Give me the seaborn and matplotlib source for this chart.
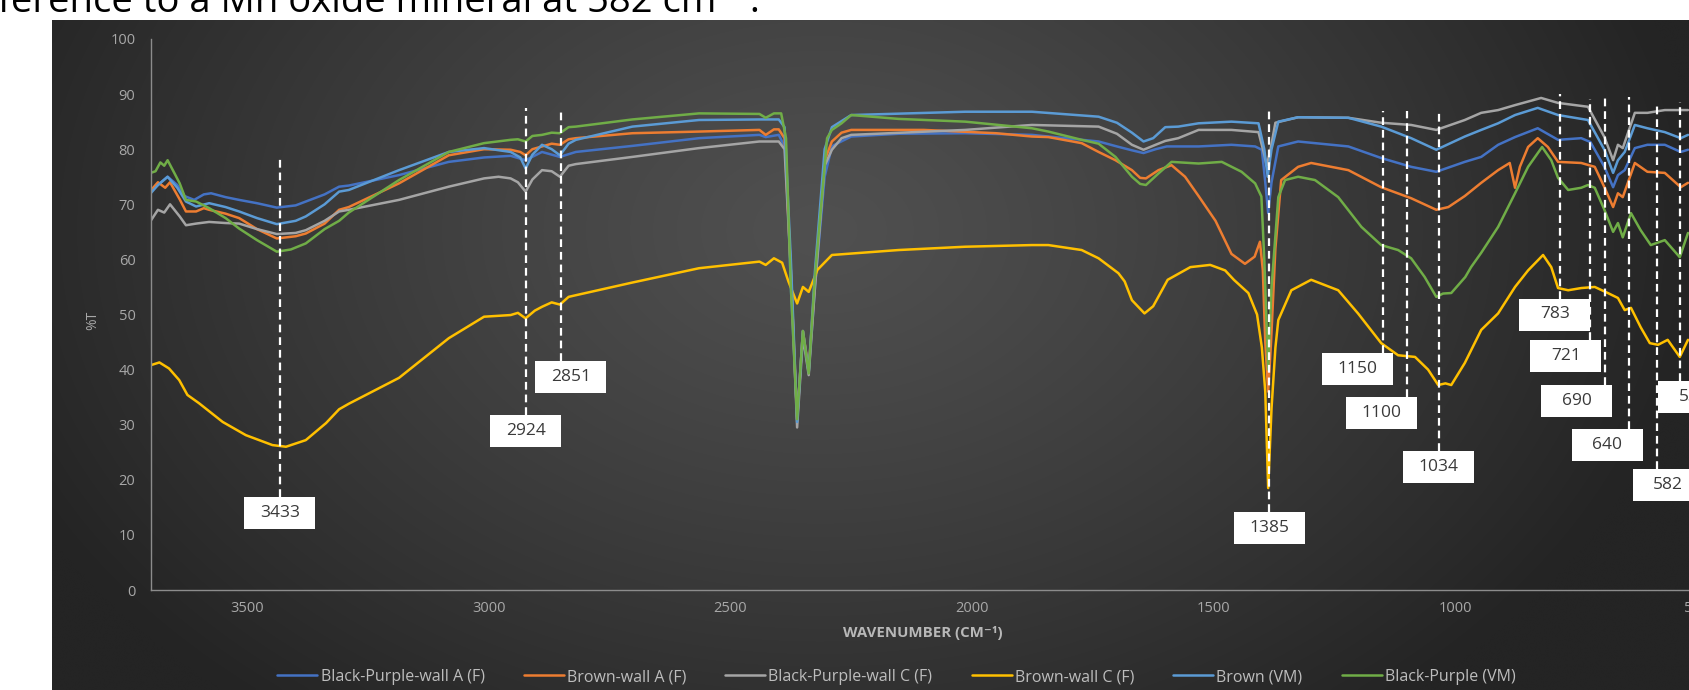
import numpy as np
import pandas as pd
import matplotlib
matplotlib.use("Agg")
import matplotlib.pyplot as plt
from matplotlib.patches import Rectangle
from matplotlib.transforms import IdentityTransform
from matplotlib.lines import Line2D
import seaborn as sns

sns.set_theme(style="dark")
plt.rcParams["font.family"] = ["Open Sans", "DejaVu Sans"]

# ---------------- FTIR spectra (%T against wavenumber, cm-1) ----------------
bpa_wn = [3700, 3685, 3665, 3645, 3630, 3610, 3590, 3575, 3545, 3517, 3480, 3439, 3400, 3379,
          3340, 3310, 3290, 3186, 3083, 3010, 2955, 2924, 2890, 2853, 2820, 2703, 2565, 2440,
          2427, 2400, 2385, 2375, 2362, 2350, 2338, 2325, 2305, 2290, 2280, 2250, 2152, 2014,
          1876, 1738, 1700, 1669, 1645, 1620, 1597, 1531, 1463, 1414, 1400, 1393, 1387, 1380,
          1366, 1325, 1221, 1153, 1091, 1039, 980, 946, 911, 876, 829, 787, 739, 720, 691, 673,
          663, 649, 628, 602, 566, 533, 518]
bpa_t = [72.5, 73.5, 75.0, 73.5, 71.5, 70.8, 71.8, 72.0, 71.3, 70.8, 70.2, 69.4, 69.8, 70.5,
         71.8, 73.2, 73.4, 75.3, 77.7, 78.5, 78.8, 78.0, 79.5, 78.6, 79.5, 80.6, 82.0, 82.6,
         82.2, 82.6, 80.0, 55.0, 31.5, 47.0, 39.5, 55.0, 75.0, 80.5, 81.0, 82.3, 82.8, 82.9,
         82.6, 81.4, 80.5, 79.8, 79.3, 80.0, 80.5, 80.5, 80.8, 80.5, 79.9, 74.0, 68.4, 74.0,
         80.5, 81.4, 80.5, 78.4, 76.8, 75.9, 77.7, 78.6, 80.8, 82.2, 83.8, 81.7, 82.0, 81.3,
         76.8, 73.1, 75.3, 76.2, 80.2, 80.8, 80.8, 79.5, 79.9]

bwa_wn = [3700, 3685, 3670, 3660, 3640, 3627, 3606, 3590, 3579, 3545, 3517, 3480, 3439, 3400,
          3379, 3340, 3310, 3290, 3186, 3083, 3010, 2955, 2935, 2924, 2910, 2890, 2870, 2853,
          2835, 2820, 2703, 2565, 2440, 2427, 2410, 2400, 2388, 2375, 2362, 2350, 2338, 2325,
          2305, 2290, 2270, 2250, 2100, 1950, 1876, 1842, 1773, 1738, 1703, 1669, 1652, 1640,
          1614, 1587, 1559, 1531, 1496, 1463, 1435, 1415, 1404, 1398, 1393, 1387, 1381, 1372,
          1360, 1325, 1298, 1221, 1153, 1091, 1039, 1014, 980, 946, 911, 887, 876, 866, 849,
          829, 808, 787, 739, 711, 691, 673, 663, 653, 628, 602, 566, 533, 518]
bwa_t = [72.5, 74.0, 73.0, 74.0, 70.9, 68.7, 68.7, 69.3, 69.0, 68.3, 67.5, 65.5, 63.8, 64.2,
         64.7, 66.5, 69.0, 69.5, 73.8, 78.9, 80.0, 79.9, 79.5, 78.9, 80.0, 80.5, 81.0, 80.8,
         81.8, 82.0, 82.9, 83.2, 83.5, 82.6, 83.6, 83.6, 82.0, 58.0, 31.0, 47.0, 40.0, 56.0,
         78.0, 81.4, 83.0, 83.5, 83.5, 82.9, 82.3, 82.2, 81.1, 79.5, 78.0, 76.2, 74.8, 74.7,
         76.2, 77.1, 75.0, 71.5, 67.0, 61.0, 59.2, 60.5, 63.2, 58.0, 45.0, 36.0, 45.0, 62.0,
         74.4, 76.8, 77.5, 76.2, 73.1, 71.1, 69.0, 69.5, 71.5, 73.9, 76.2, 77.5, 73.0, 76.8,
         80.4, 82.0, 80.4, 77.7, 77.5, 76.8, 73.1, 69.5, 72.0, 71.3, 77.5, 75.9, 75.7, 73.1,
         73.9]

bpc_wn = [3700, 3685, 3672, 3660, 3640, 3627, 3606, 3579, 3545, 3517, 3480, 3439, 3400, 3379,
          3340, 3310, 3290, 3186, 3083, 3010, 2980, 2955, 2940, 2924, 2910, 2890, 2870, 2853,
          2835, 2820, 2703, 2565, 2440, 2400, 2388, 2375, 2362, 2350, 2338, 2325, 2305, 2290,
          2270, 2250, 2014, 1876, 1738, 1700, 1669, 1645, 1620, 1600, 1573, 1531, 1463, 1407,
          1395, 1390, 1382, 1372, 1325, 1221, 1153, 1091, 1039, 980, 946, 911, 876, 822, 787,
          725, 691, 673, 663, 653, 628, 602, 566, 518]
bpc_t = [67.0, 69.0, 68.5, 70.0, 67.8, 66.2, 66.5, 66.8, 66.6, 66.5, 65.5, 64.6, 64.8, 65.3,
         67.0, 68.7, 69.0, 70.8, 73.2, 74.7, 75.0, 74.7, 74.0, 72.3, 74.5, 76.2, 76.0, 75.0,
         77.0, 77.3, 78.6, 80.2, 81.4, 81.4, 80.0, 58.0, 29.5, 46.0, 39.0, 55.0, 77.0, 79.9,
         82.0, 82.6, 83.5, 84.4, 84.1, 82.8, 80.8, 79.9, 80.8, 81.5, 82.0, 83.5, 83.5, 83.1,
         79.0, 77.0, 80.0, 84.8, 85.8, 85.7, 84.8, 84.4, 83.5, 85.3, 86.6, 87.1, 88.0, 89.3,
         88.4, 87.7, 82.2, 78.0, 80.8, 80.2, 86.6, 86.6, 87.1, 87.1]

bwc_wn = [3700, 3682, 3662, 3641, 3624, 3600, 3551, 3503, 3448, 3420, 3379, 3337, 3310, 3290,
          3186, 3083, 3010, 2955, 2940, 2924, 2905, 2890, 2870, 2853, 2835, 2820, 2703, 2565,
          2440, 2427, 2410, 2393, 2380, 2362, 2350, 2338, 2320, 2290, 2152, 2014, 1876, 1842,
          1773, 1738, 1697, 1684, 1669, 1643, 1625, 1595, 1548, 1507, 1476, 1458, 1428, 1410,
          1400, 1393, 1387, 1380, 1372, 1366, 1339, 1298, 1242, 1201, 1153, 1118, 1083, 1056,
          1035, 1020, 1008, 980, 946, 911, 876, 849, 818, 801, 787, 766, 739, 711, 684, 663,
          649, 636, 616, 597, 580, 560, 535, 518]
bwc_t = [40.8, 41.3, 40.2, 38.1, 35.4, 33.9, 30.5, 28.1, 26.3, 26.0, 27.2, 30.3, 32.8, 33.8,
         38.5, 45.7, 49.6, 49.9, 50.3, 49.3, 50.7, 51.4, 52.2, 51.8, 53.2, 53.5, 55.8, 58.4,
         59.6, 59.0, 60.2, 59.4, 56.0, 52.0, 55.0, 54.1, 58.1, 60.8, 61.7, 62.3, 62.6, 62.6,
         61.7, 60.2, 57.5, 56.0, 52.6, 50.2, 51.5, 56.3, 58.6, 59.0, 58.0, 56.3, 53.9, 50.0,
         44.0, 36.0, 18.5, 33.0, 44.0, 49.0, 54.4, 56.3, 54.4, 50.2, 44.8, 42.6, 42.3, 40.0,
         37.2, 37.5, 37.2, 41.2, 47.2, 50.2, 55.0, 58.0, 60.8, 58.6, 54.8, 54.4, 54.8, 55.0,
         53.9, 53.0, 50.8, 51.2, 47.7, 44.8, 44.5, 45.4, 42.3, 45.4]

bvm_wn = [3700, 3685, 3665, 3645, 3627, 3606, 3579, 3545, 3517, 3480, 3439, 3400, 3379, 3340,
          3310, 3290, 3186, 3083, 3010, 2955, 2935, 2924, 2910, 2890, 2870, 2853, 2835, 2820,
          2703, 2565, 2440, 2400, 2388, 2375, 2362, 2350, 2338, 2325, 2305, 2290, 2250, 2014,
          1876, 1738, 1700, 1669, 1645, 1625, 1600, 1573, 1531, 1463, 1407, 1395, 1388, 1380,
          1366, 1325, 1221, 1153, 1091, 1039, 980, 946, 911, 876, 829, 787, 725, 691, 673, 663,
          649, 628, 602, 566, 533, 518]
bvm_t = [72.0, 73.5, 75.0, 73.0, 70.5, 69.6, 70.2, 69.5, 68.7, 67.5, 66.4, 67.0, 67.8, 70.0,
         72.3, 72.6, 76.2, 79.5, 80.2, 79.5, 78.5, 76.5, 79.0, 80.8, 80.0, 78.9, 81.0, 81.7,
         84.1, 85.3, 85.4, 85.4, 84.0, 60.0, 30.5, 47.0, 39.5, 58.0, 80.0, 84.0, 86.2, 86.8,
         86.8, 85.9, 84.8, 83.0, 81.4, 82.0, 84.0, 84.1, 84.7, 85.0, 84.7, 80.0, 75.0, 80.0,
         85.0, 85.8, 85.7, 84.1, 82.0, 79.9, 82.3, 83.5, 84.7, 86.2, 87.5, 86.2, 85.3, 79.9,
         75.7, 78.0, 79.5, 84.4, 83.8, 83.1, 82.0, 82.6]

bpvm_wn = [3700, 3690, 3680, 3672, 3665, 3650, 3640, 3627, 3606, 3579, 3545, 3517, 3480, 3439,
           3410, 3379, 3340, 3310, 3290, 3186, 3083, 3010, 2955, 2940, 2924, 2910, 2890, 2870,
           2853, 2835, 2820, 2703, 2565, 2440, 2427, 2410, 2395, 2385, 2375, 2362, 2350, 2338,
           2325, 2300, 2290, 2270, 2250, 2152, 2014, 1876, 1842, 1773, 1738, 1703, 1669, 1652,
           1640, 1614, 1587, 1531, 1483, 1442, 1414, 1401, 1395, 1387, 1380, 1366, 1352, 1325,
           1290, 1242, 1194, 1153, 1118, 1091, 1063, 1039, 1025, 1008, 979, 967, 946, 911, 876,
           849, 820, 801, 787, 766, 739, 725, 711, 691, 673, 663, 653, 636, 616, 595, 566, 535,
           518]
bpvm_t = [75.7, 76.0, 77.6, 77.0, 78.0, 75.5, 73.8, 70.8, 70.5, 69.3, 67.5, 65.6, 63.5, 61.4,
          61.8, 62.9, 65.5, 67.0, 68.5, 74.4, 79.5, 81.1, 81.7, 81.8, 81.4, 82.4, 82.6, 83.0,
          82.9, 84.0, 84.1, 85.4, 86.5, 86.4, 85.7, 86.5, 86.5, 82.0, 55.0, 31.0, 47.0, 39.3,
          57.0, 82.0, 83.5, 84.7, 86.2, 85.5, 85.0, 83.8, 83.2, 81.7, 81.0, 78.6, 75.0, 73.7,
          73.5, 75.6, 77.7, 77.4, 77.7, 75.9, 73.8, 71.4, 60.0, 40.0, 55.0, 71.3, 74.4, 75.0,
          74.4, 71.3, 65.9, 62.6, 61.7, 60.2, 56.8, 53.2, 53.8, 53.9, 56.8, 58.6, 61.2, 65.9,
          72.0, 76.8, 80.4, 78.0, 74.8, 72.6, 73.0, 73.5, 73.0, 69.0, 65.0, 66.6, 64.0, 68.4,
          65.3, 62.6, 63.5, 60.4, 64.8]

sample_names = ["Black-Purple-wall A (F)", "Brown-wall A (F)", "Black-Purple-wall C (F)",
                "Brown-wall C (F)", "Brown (VM)", "Black-Purple (VM)"]
sample_wn = [bpa_wn, bwa_wn, bpc_wn, bwc_wn, bvm_wn, bpvm_wn]
sample_t = [bpa_t, bwa_t, bpc_t, bwc_t, bvm_t, bpvm_t]
sample_colors = ["#4472C4", "#ED7D31", "#A5A5A5", "#FFC000", "#5B9BD5", "#70AD47"]

# marked absorption bands
band_values = [3433, 2924, 2851, 1385, 1150, 1100, 1034, 783, 721, 690, 640, 582, 535]
band_labels = [str(v) for v in band_values]

x_ticks = [3500, 3000, 2500, 2000, 1500, 1000, 500]
y_ticks = list(range(0, 101, 10))

df = pd.concat([pd.DataFrame({"wavenumber": w, "T": t, "sample": n})
                for n, w, t in zip(sample_names, sample_wn, sample_t)], ignore_index=True)

# ---------------- figure ----------------
W, H = 1690, 690
fig = plt.figure(figsize=(W / 100, H / 100), dpi=100)
fig.patch.set_facecolor("white")

# dark radial-gradient chart panel
panel_l, panel_t = 52, 20
bg = fig.add_axes([panel_l / W, 0, 1 - panel_l / W, (H - panel_t) / H])
ny, nx = 240, 480
gy, gx = np.mgrid[0:ny, 0:nx]
ppx = panel_l + gx / (nx - 1) * (W - panel_l)
ppy = panel_t + gy / (ny - 1) * (H - panel_t)
rr = np.clip(np.sqrt(((ppx - 820) / 880) ** 2 + ((ppy - 230) / 620) ** 2), 0, 1)
shade = (0x50 * (1 - rr ** 1.2) + 0x24 * rr ** 1.2) / 255
bg.imshow(np.dstack([shade, shade, shade]), aspect="auto", interpolation="bicubic")
bg.set_axis_off()

# plotting area (the right end of the wavenumber axis runs past the figure edge)
ax_l, ax_r, ax_b, ax_t = 150.7, 1745, 590, 39
ax = fig.add_axes([ax_l / W, (H - ax_b) / H, (ax_r - ax_l) / W, (ax_b - ax_t) / H])
ax.set_facecolor("none")

sns.lineplot(data=df, x="wavenumber", y="T", hue="sample", hue_order=sample_names,
             palette=sample_colors, estimator=None, sort=True, linewidth=1.8,
             legend=False, ax=ax)

ax.set_xlim(3700, 400)
ax.set_ylim(0, 100)
ax.set_xticks(x_ticks)
ax.set_yticks(y_ticks)
ax.set_xticklabels([str(v) for v in x_ticks])
ax.set_yticklabels([str(v) for v in y_ticks])
ax.tick_params(axis="both", length=0, labelsize=10.5, labelcolor="#a8a8a8")
ax.tick_params(axis="y", pad=11)
ax.tick_params(axis="x", pad=8)
ax.grid(False)
for s in ["top", "right"]:
    ax.spines[s].set_visible(False)
for s in ["left", "bottom"]:
    ax.spines[s].set_color("#8c8c8c")
    ax.spines[s].set_linewidth(1.0)
ax.set_xlabel("")
ax.set_ylabel("")

# dashed band markers with white value boxes
line_top = [78.8, 87.5, 87.5, 87.0, 87.0, 87.0, 86.8, 90.1, 89.2, 89.8, 89.5, 88.6, 88.6]
box_mid = [13.9, 28.9, 38.7, 11.3, 40.1, 32.2, 22.3, 50.0, 42.5, 34.3, 26.4, 19.1, 35.1]
box_dx = [0, 0, 10, 0, -25, -25, 0, -5, -24, -28, -22, 11, 14]
box_w, box_h = 71, 32
for val, lab, top, mid, dx in zip(band_values, band_labels, line_top, box_mid, box_dx):
    cx, cy = ax.transData.transform((val, mid))
    box_top_t = ax.transData.inverted().transform((cx, cy + box_h / 2))[1]
    ax.plot([val, val], [box_top_t, top], color="white", lw=1.6,
            ls=(0, (3.5, 2.2)), zorder=4, clip_on=False)
    cx += dx
    fig.add_artist(Rectangle((cx - box_w / 2, cy - box_h / 2), box_w, box_h,
                             transform=IdentityTransform(), fc="white", ec="none", zorder=5))
    fig.text(cx / W, cy / H, lab, ha="center", va="center", fontsize=12.5,
             color="#3a3a3a", zorder=6)

# axis titles
fig.text(923 / W, 1 - 633 / H, "WAVENUMBER (CM⁻¹)", ha="center", va="center",
         fontsize=10.8, fontweight="bold", color="#b8b8b8")
fig.text(93 / W, 1 - 320 / H, "%T", ha="center", va="center", rotation=90,
         fontsize=10, color="#a8a8a8")

# legend
handles = [Line2D([], [], color=c, lw=1.8) for c in sample_colors]
fig.legend(handles, sample_names, loc="center", bbox_to_anchor=(896.5 / W, 1 - 677 / H),
           ncol=6, frameon=False, fontsize=11.5, labelcolor="#bdbdbd",
           handlelength=2.5, handletextpad=0.2, columnspacing=2.45)

# caption text running above the chart
fig.text(-2 / W, 1 - 12 / H, "ference to a Mn oxide mineral at 582 cm⁻¹.",
         ha="left", va="baseline", fontsize=27.5, color="black",
         family=["Open Sans", "DejaVu Sans"])

fig.savefig("out.png", dpi=100)
